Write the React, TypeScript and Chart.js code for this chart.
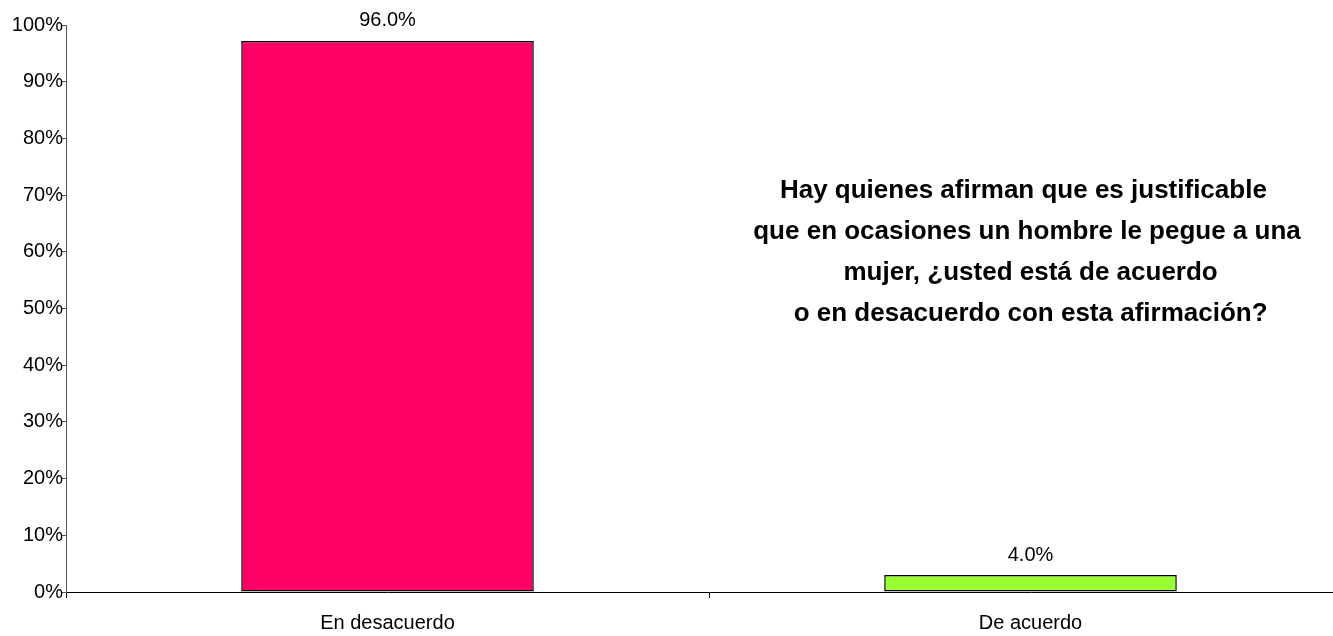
import React, { useEffect, useRef } from "react";
import { Chart, registerables } from "chart.js";

Chart.register(...registerables);

const categories = ["En desacuerdo", "De acuerdo"];
const barValues = [97.2, 3.0];
const valueLabels = ["96.0%", "4.0%"];
const barColors = ["#FF0066", "#99FF33"];
const yTicks = [0, 10, 20, 30, 40, 50, 60, 70, 80, 90, 100];
const titleLines = [
  "Hay quienes afirman que es justificable ",
  "que en ocasiones un hombre le pegue a una",
  " mujer, ¿usted está de acuerdo",
  " o en desacuerdo con esta afirmación?",
];

const FONT = "'Liberation Sans', Arial, sans-serif";

const labelPlugin = {
  id: "valueLabels",
  afterDatasetsDraw(chart: any) {
    const ctx = chart.ctx;
    const meta = chart.getDatasetMeta(0);
    ctx.save();
    ctx.font = `20px ${FONT}`;
    ctx.fillStyle = "#000";
    ctx.textAlign = "center";
    ctx.textBaseline = "middle";
    meta.data.forEach((bar: any, i: number) => {
      ctx.fillText(valueLabels[i], bar.x, bar.y - 20);
    });
    ctx.restore();
  },
};

const titlePlugin = {
  id: "sideTitle",
  afterDraw(chart: any) {
    const ctx = chart.ctx;
    ctx.save();
    ctx.font = `bold 26px ${FONT}`;
    ctx.fillStyle = "#000";
    ctx.textAlign = "center";
    ctx.textBaseline = "middle";
    const cx = 1027;
    const y0 = 191;
    const step = 41;
    titleLines.forEach((line, i) => {
      ctx.fillText(line, cx, y0 + i * step);
    });
    ctx.restore();
  },
};

export default function App() {
  const ref = useRef<HTMLCanvasElement | null>(null);

  useEffect(() => {
    if (!ref.current) return;
    const chart = new Chart(ref.current, {
      type: "bar",
      data: {
        labels: categories,
        datasets: [
          {
            data: barValues,
            backgroundColor: barColors,
            borderColor: "#000",
            borderWidth: 1.5,
            borderSkipped: false,
            barPercentage: 0.455,
            categoryPercentage: 1,
          },
        ],
      },
      options: {
        responsive: false,
        animation: false,
        devicePixelRatio: 1,
        layout: { padding: { top: 25, right: 4, left: 0, bottom: 0 } },
        plugins: {
          legend: { display: false },
          tooltip: { enabled: false },
          title: { display: false },
        },
        scales: {
          x: {
            grid: {
              display: true,
              offset: true,
              drawOnChartArea: false,
              drawTicks: true,
              tickLength: 6,
              color: "#000",
            },
            border: { display: true, color: "#000", width: 1 },
            ticks: {
              color: "#000",
              font: { size: 20, family: FONT },
              padding: 13,
              maxRotation: 0,
            },
            afterFit(scale: any) {
              scale.height = 44;
            },
          },
          y: {
            min: 0,
            max: 100,
            afterBuildTicks(scale: any) {
              scale.ticks = yTicks.map((v) => ({ value: v }));
            },
            grid: {
              display: true,
              drawOnChartArea: false,
              drawTicks: true,
              tickLength: 4,
              color: "#555",
            },
            border: { display: true, color: "#555", width: 1 },
            ticks: {
              color: "#000",
              font: { size: 20, family: FONT },
              padding: -1,
              callback: (v: any) => `${v}%`,
            },
            afterFit(scale: any) {
              scale.width = 66;
            },
          },
        },
      },
      plugins: [labelPlugin, titlePlugin],
    });
    return () => chart.destroy();
  }, []);

  return (
    <div
      style={{
        position: "absolute",
        left: 0,
        top: 0,
        width: 1333,
        height: 636,
        overflow: "hidden",
        background: "#fff",
      }}
    >
      <canvas ref={ref} width={1356} height={636} style={{ display: "block" }} />
    </div>
  );
}
